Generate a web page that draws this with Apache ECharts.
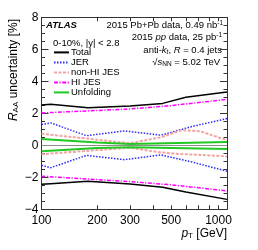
<!DOCTYPE html>
<html><head><meta charset="utf-8">
<script src="https://cdn.jsdelivr.net/npm/echarts@6/dist/echarts.min.js"></script>
<style>html,body{margin:0;padding:0;background:#fff}#c{width:258px;height:250px}</style>
</head><body><div id="c"></div>
<script>
const totalX = [100, 112, 178, 300, 450, 600, 1000];
const totalUp = [2.52, 2.57, 2.35, 2.45, 2.62, 3.0, 3.33];
const totalDn = [-2.44, -2.40, -2.24, -2.42, -2.62, -2.92, -3.38];
const jerX = [100, 112, 175, 280, 440, 650, 1000];
const jerUp = [1.3, 1.4, 0.6, 0.9, 0.63, 1.18, 1.67];
const jerDn = [-1.25, -1.4, -0.63, -0.9, -0.6, -1.05, -1.62];
const nonHiX = [100, 200, 300, 440, 570, 720, 1000];
const nonHiUp = [0.72, 0.35, 0.13, 0.5, 0.95, 0.87, 0.32];
const nonHiDn = [-0.56, -0.3, -0.15, -0.45, -0.55, -0.6, -0.7];
const hiJesX = [100, 300, 500, 1000];
const hiJesUp = [2.02, 2.27, 2.48, 2.87];
const hiJesDn = [-1.93, -2.27, -2.47, -2.85];
const unfX = [100, 200, 300, 1000];
const unfUp = [0.4, 0.17, 0.08, 0.2];
const unfDn = [-0.37, -0.17, -0.12, -0.23];
const xLabels = [100, 200, 300, 500, 1000];
const xTicks = [100, 200, 300, 400, 500, 600, 700, 800, 900, 1000];
const legendNames = ['Total', 'JER', 'non-HI JES', 'HI JES', 'Unfolding'];

const FONT = 'Liberation Sans, Arial, sans-serif';
const pts = (xs, ys) => xs.map((x, i) => [x, ys[i]]);
const styles = {
  'Total': {color: '#000000', width: 1.5, type: 'solid'},
  'JER': {color: '#2a2aff', width: 1.5, type: [1.5, 1.5]},
  'non-HI JES': {color: '#f2a4a4', width: 2, type: [3, 1.5]},
  'HI JES': {color: '#ff00ff', width: 1.5, type: [4, 1.5, 1.2, 1.5]},
  'Unfolding': {color: '#22c822', width: 2, type: 'solid'}
};
const curves = [
  ['Total', totalX, totalUp], ['Total', totalX, totalDn],
  ['JER', jerX, jerUp], ['JER', jerX, jerDn],
  ['non-HI JES', nonHiX, nonHiUp], ['non-HI JES', nonHiX, nonHiDn],
  ['HI JES', hiJesX, hiJesUp], ['HI JES', hiJesX, hiJesDn],
  ['Unfolding', unfX, unfUp], ['Unfolding', unfX, unfDn]
];
const series = curves.map(([name, xs, ys]) => ({
  name, type: 'line', data: pts(xs, ys), symbol: 'none', silent: true, animation: false,
  xAxisIndex: 0, yAxisIndex: 0,
  lineStyle: styles[name], itemStyle: {color: styles[name].color}
}));
series.unshift({
  type: 'line', data: [], symbol: 'none', animation: false,
  markLine: {silent: true, symbol: 'none', label: {show: false},
    lineStyle: {color: '#8c8c8c', width: 1, type: 'solid'}, data: [{yAxis: 0}]}
});

const axisLineStyle = {color: '#333', width: 1};
const chart = echarts.init(document.getElementById('c'), null, {renderer: 'canvas'});
chart.setOption({
  animation: false,
  grid: {left: 41.5, right: 31, top: 17.3, bottom: 40.7, containLabel: false},
  xAxis: [{
    type: 'log', logBase: 10, min: 100, max: 1000, position: 'bottom',
    axisLine: {show: true, onZero: false, lineStyle: axisLineStyle},
    axisTick: {show: true, inside: true, length: 4, customValues: xTicks, lineStyle: axisLineStyle},
    axisLabel: {show: true, customValues: xLabels, fontSize: 12, color: '#000', fontFamily: FONT, margin: 5,
      showMinLabel: true, showMaxLabel: true,
      formatter: v => Math.round(v) === 1000 ? '{r|1000}' : String(Math.round(v)),
      rich: {r: {fontSize: 12, color: '#000', fontFamily: FONT, padding: [0, 17, 0, 0]}}},
    splitLine: {show: false}, minorTick: {show: false}
  }, {
    type: 'log', logBase: 10, min: 100, max: 1000, position: 'top',
    axisLine: {show: true, onZero: false, lineStyle: axisLineStyle},
    axisTick: {show: true, inside: true, length: 4, customValues: xTicks, lineStyle: axisLineStyle},
    axisLabel: {show: false}, splitLine: {show: false}
  }],
  yAxis: [{
    type: 'value', min: -4, max: 8, interval: 2, position: 'left',
    axisLine: {show: true, onZero: false, lineStyle: axisLineStyle},
    axisTick: {show: true, inside: true, length: 7, lineStyle: axisLineStyle},
    minorTick: {show: true, splitNumber: 4, length: 3.5, lineStyle: axisLineStyle},
    axisLabel: {fontSize: 12, color: '#000', fontFamily: FONT, margin: 3,
      formatter: v => String(v).replace('-', '\u2212')},
    splitLine: {show: false}
  }, {
    type: 'value', min: -4, max: 8, interval: 2, position: 'right',
    axisLine: {show: true, onZero: false, lineStyle: axisLineStyle},
    axisTick: {show: true, inside: true, length: 7, lineStyle: axisLineStyle},
    minorTick: {show: true, splitNumber: 4, length: 3.5, lineStyle: axisLineStyle},
    axisLabel: {show: false}, splitLine: {show: false}
  }],
  legend: {
    data: legendNames, orient: 'vertical', left: 53, top: 47.4,
    itemWidth: 15, itemHeight: 8, itemGap: 0, padding: 0,
    itemStyle: {color: 'rgba(0,0,0,0)', borderColor: 'rgba(0,0,0,0)', borderWidth: 0, opacity: 0},
    textStyle: {fontSize: 9.5, color: '#000', fontFamily: FONT, lineHeight: 9.3, padding: [0, 0, 0, -3]},
    selectedMode: false
  },
  graphic: [
    {type: 'text', x: 46, y: 25, style: {text: 'ATLAS', fontSize: 9.5, fontWeight: 'bold', fontStyle: 'italic',
      fontFamily: FONT, fill: '#000', textVerticalAlign: 'middle'}},
    {type: 'text', x: 53, y: 43.3, style: {text: '0-10%, |y| < 2.8', fontSize: 9.5, fontFamily: FONT, fill: '#000',
      textVerticalAlign: 'middle'}},
    {type: 'text', x: 223, y: 25, style: {text: '2015 Pb+Pb data, 0.49 nb{sup|-1}', fontSize: 9.5, fontFamily: FONT,
      fill: '#000', textAlign: 'right', textVerticalAlign: 'middle',
      rich: {sup: {fontSize: 6.5, verticalAlign: 'top', fontFamily: FONT, padding: [0, 0, 4, 0]}}}},
    {type: 'text', x: 222, y: 37.7, style: {text: '2015 {i|pp} data, 25 pb{sup|-1}', fontSize: 9.5, fontFamily: FONT,
      fill: '#000', textAlign: 'right', textVerticalAlign: 'middle',
      rich: {i: {fontStyle: 'italic', fontSize: 9.5, fontFamily: FONT},
             sup: {fontSize: 6.5, verticalAlign: 'top', fontFamily: FONT, padding: [0, 0, 4, 0]}}}},
    {type: 'text', x: 222, y: 50.3, style: {text: 'anti-{i|k}{sub|t}, {i|R} = 0.4 jets', fontSize: 9.5, fontFamily: FONT,
      fill: '#000', textAlign: 'right', textVerticalAlign: 'middle',
      rich: {i: {fontStyle: 'italic', fontSize: 9.5, fontFamily: FONT},
             sub: {fontSize: 6.5, fontStyle: 'italic', verticalAlign: 'bottom', fontFamily: FONT, padding: [3, 0, 0, 0]}}}},
    {type: 'text', x: 220, y: 62.7, style: {text: '\u221A{i|s}{sub|NN} = 5.02 TeV', fontSize: 9.5, fontFamily: FONT,
      fill: '#000', textAlign: 'right', textVerticalAlign: 'middle',
      rich: {i: {fontStyle: 'italic', fontSize: 9.5, fontFamily: FONT},
             sub: {fontSize: 6.5, verticalAlign: 'bottom', fontFamily: FONT, padding: [3, 0, 0, 0]}}}},
    {type: 'text', x: 14, y: 19, rotation: Math.PI / 2, style: {text: '{i|R}{sub|AA} uncertainty [%]', fontSize: 12,
      fontFamily: FONT, fill: '#000', textAlign: 'right', textVerticalAlign: 'middle',
      rich: {i: {fontStyle: 'italic', fontSize: 12, fontFamily: FONT},
             sub: {fontSize: 8, verticalAlign: 'bottom', fontFamily: FONT, padding: [4, 0, 0, 0]}}}},
    {type: 'text', x: 227, y: 234, style: {text: '{i|p}{sub|T} [GeV]', fontSize: 12, fontFamily: FONT, fill: '#000',
      textAlign: 'right', textVerticalAlign: 'middle',
      rich: {i: {fontStyle: 'italic', fontSize: 12, fontFamily: FONT},
             sub: {fontSize: 8, verticalAlign: 'bottom', fontFamily: FONT, padding: [4, 0, 0, 0]}}}}
  ],
  series
});
</script></body></html>
